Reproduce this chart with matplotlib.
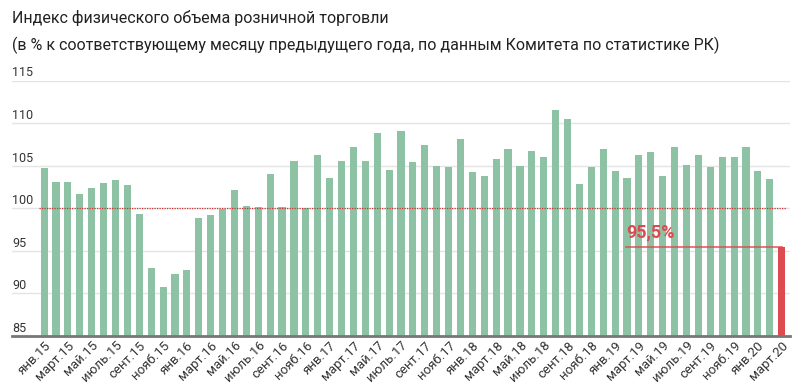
import matplotlib
matplotlib.use("Agg")
import matplotlib.pyplot as plt
import matplotlib.transforms as mtransforms

plt.rcParams['font.family'] = ['Roboto', 'DejaVu Sans']

### data
months = ["янв", "фев", "март", "апр", "май", "июнь", "июль", "авг", "сент", "окт", "нояб", "дек"]
years = ["15", "16", "17", "18", "19", "20"]
# index of physical volume of retail trade, % to the same month of previous year
values = [
    104.7, 103.1, 103.1, 101.7, 102.4, 103.0, 103.3, 102.7, 99.3, 93.0, 90.7, 92.3,   # 2015
    92.7, 98.9, 99.2, 99.9, 102.2, 100.3, 100.1, 104.0, 100.1, 105.6, 100.0, 106.3,   # 2016
    103.5, 105.5, 107.2, 105.6, 108.8, 104.5, 109.1, 105.4, 107.4, 105.0, 104.9, 108.1,  # 2017
    104.3, 103.8, 105.8, 107.0, 105.0, 106.7, 106.0, 111.5, 110.5, 102.8, 104.9, 107.0,  # 2018
    104.4, 103.5, 106.2, 106.6, 103.8, 107.2, 105.1, 106.2, 104.9, 106.0, 106.0, 107.2,  # 2019
    104.4, 103.4, 95.5,  # 2020
]
labels = [m + "." + y for y in years for m in months][:len(values)]
yticks = [85, 90, 95, 100, 105, 110, 115]

title1 = "Индекс физического объема розничной торговли"
title2 = "(в % к соответствующему месяцу предыдущего года, по данным Комитета по статистике РК)"
last_label = "95,5%"

GREEN = "#8dc3a4"
RED = "#dd4a4f"

fig = plt.figure(figsize=(8, 3.9), dpi=100)
ax = fig.add_axes([12 / 800, 1 - 336 / 390, 778 / 800, 255.5 / 390])

x = list(range(len(values)))
colors = [GREEN] * (len(values) - 1) + [RED]
ax.bar(x, [v - 85 for v in values], bottom=85, width=0.6, color=colors, zorder=3)

ax.set_ylim(85, 115)
ax.set_xlim(-2.7, len(values) - 0.3)

# grid and y labels drawn above the grid lines
for t in yticks:
    ax.axhline(t, color="#e4e4e4", lw=1, zorder=1)
trans = mtransforms.blended_transform_factory(ax.transAxes, ax.transData)
for t in yticks:
    ax.text(0, t + 0.47, str(t), transform=trans, ha="left", va="baseline",
            fontsize=9, color="#333333")
ax.set_yticks([])

# 100% reference line
ax.axhline(100, xmin=0.035, xmax=0.995, color="#cc3333", lw=0.9, ls=(0, (1, 1)), zorder=4)

# last value annotation
last = len(values) - 1
ax.plot([48.9, last], [values[-1], values[-1]], color=RED, lw=1.3, alpha=0.8, zorder=4)
ax.text(48.9, values[-1] + 0.6, last_label, color=RED, fontsize=13, fontweight="bold",
        ha="left", va="bottom", zorder=5)

ax.set_xticks(x[::2])
ax.set_xticklabels(labels[::2], rotation=45, ha="right", rotation_mode="anchor",
                   fontsize=9.5, color="#333333")
ax.tick_params(axis="x", length=0, pad=2)

for s in ["top", "right", "left"]:
    ax.spines[s].set_visible(False)
ax.spines["bottom"].set_color("#777777")
ax.spines["bottom"].set_linewidth(2)
ax.spines["bottom"].set_zorder(5)

fig.text(12 / 800, 1 - 18 / 390, title1, fontsize=11.5, color="#222222", va="center", ha="left")
fig.text(12 / 800, 1 - 45 / 390, title2, fontsize=11.5, color="#222222", va="center", ha="left")

fig.savefig("out.png", dpi=100)
